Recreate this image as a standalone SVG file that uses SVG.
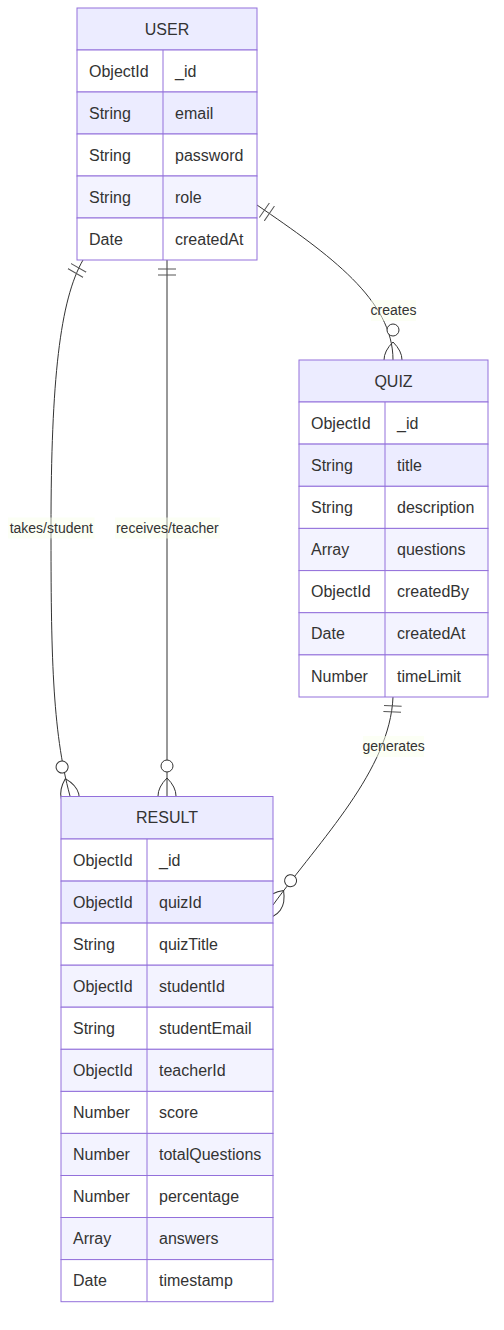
<svg xmlns="http://www.w3.org/2000/svg" width="504" height="1330" viewBox="0 0 504 1330">
<style>
.hdr{fill:#ECECFF;stroke:#9370DB;stroke-width:1}
.odd{fill:#FFFFFF;stroke:#9370DB;stroke-width:1}
.ev1{fill:#ECECFF;stroke:#9370DB;stroke-width:1}
.ev{fill:#F3F3FF;stroke:#9370DB;stroke-width:1}
.div{stroke:#9370DB;stroke-width:1}
.t{font-family:"Liberation Sans",Arial,sans-serif;font-size:16px;fill:#333333}
.c{text-anchor:middle}
.edge{fill:none;stroke:#333333;stroke-width:1}
.lbg{fill:#F9FFEC;opacity:0.5}
.lt{font-family:"Liberation Sans",Arial,sans-serif;font-size:14px;fill:#333333;text-anchor:middle}
.mk{fill:none;stroke:#555555;stroke-width:1}
.mkc{fill:#FFFFFF;stroke:#333333;stroke-width:1}
</style>
<defs>
<marker id="oneStart" markerUnits="userSpaceOnUse" markerWidth="18" markerHeight="18" refX="0" refY="9" orient="auto">
<path class="mk" d="M9,0 L9,18 M15,0 L15,18"/>
</marker>
<marker id="manyEnd" markerUnits="userSpaceOnUse" markerWidth="57" markerHeight="36" refX="39" refY="18" orient="auto">
<circle class="mkc" cx="9" cy="18" r="6"/>
<path class="edge" d="M21,18 Q39,0 57,18 Q39,36 21,18"/>
</marker>
</defs>
<rect width="504" height="1330" fill="#FFFFFF"/>
<g id="connectors">
<path class="edge" d="M257,205 C330,255 393,300 393,360" marker-start="url(#oneStart)" marker-end="url(#manyEnd)"/>
<path class="edge" d="M83,260 C60,300 51,380 51,528 C51,650 52,730 70,796" marker-start="url(#oneStart)" marker-end="url(#manyEnd)"/>
<path class="edge" d="M167,260 L167,796" marker-start="url(#oneStart)" marker-end="url(#manyEnd)"/>
<path class="edge" d="M393,697 C390,770 320,840 273,905" marker-start="url(#oneStart)" marker-end="url(#manyEnd)"/>
<rect class="lbg" x="371" y="300" width="45" height="21"/>
<text class="lt" x="393.5" y="315">creates</text>
<rect class="lbg" x="8" y="517.5" width="86.5" height="21"/>
<text class="lt" x="51.3" y="533">takes/student</text>
<rect class="lbg" x="115" y="517.5" width="105" height="21"/>
<text class="lt" x="167.3" y="533">receives/teacher</text>
<rect class="lbg" x="363" y="736" width="61" height="21"/>
<text class="lt" x="393.7" y="751">generates</text>
</g>
<g id="entity-USER">
<rect class="hdr" x="77" y="8" width="180" height="42"/>
<text class="t c" x="167" y="34.5">USER</text>
<rect class="odd" x="77" y="50" width="180" height="42"/>
<rect class="ev1" x="77" y="92" width="180" height="42"/>
<rect class="odd" x="77" y="134" width="180" height="42"/>
<rect class="ev" x="77" y="176" width="180" height="42"/>
<rect class="odd" x="77" y="218" width="180" height="42"/>
<line class="div" x1="163" y1="50" x2="163" y2="260"/>
<text class="t" x="89" y="76.5">ObjectId</text><text class="t" x="175" y="76.5">_id</text>
<text class="t" x="89" y="118.5">String</text><text class="t" x="175" y="118.5">email</text>
<text class="t" x="89" y="160.5">String</text><text class="t" x="175" y="160.5">password</text>
<text class="t" x="89" y="202.5">String</text><text class="t" x="175" y="202.5">role</text>
<text class="t" x="89" y="244.5">Date</text><text class="t" x="175" y="244.5">createdAt</text>
</g>
<g id="entity-QUIZ">
<rect class="hdr" x="299" y="360" width="189" height="42"/>
<text class="t c" x="393.5" y="386.5">QUIZ</text>
<rect class="odd" x="299" y="402" width="189" height="42.1"/>
<rect class="ev1" x="299" y="444.1" width="189" height="42.2"/>
<rect class="odd" x="299" y="486.3" width="189" height="42.1"/>
<rect class="ev" x="299" y="528.4" width="189" height="42.2"/>
<rect class="odd" x="299" y="570.6" width="189" height="42.1"/>
<rect class="ev" x="299" y="612.7" width="189" height="42.2"/>
<rect class="odd" x="299" y="654.9" width="189" height="42.1"/>
<line class="div" x1="385" y1="402" x2="385" y2="697"/>
<text class="t" x="311" y="428.6">ObjectId</text><text class="t" x="397" y="428.6">_id</text>
<text class="t" x="311" y="470.7">String</text><text class="t" x="397" y="470.7">title</text>
<text class="t" x="311" y="512.9">String</text><text class="t" x="397" y="512.9">description</text>
<text class="t" x="311" y="555">Array</text><text class="t" x="397" y="555">questions</text>
<text class="t" x="311" y="597.2">ObjectId</text><text class="t" x="397" y="597.2">createdBy</text>
<text class="t" x="311" y="639.3">Date</text><text class="t" x="397" y="639.3">createdAt</text>
<text class="t" x="311" y="681.5">Number</text><text class="t" x="397" y="681.5">timeLimit</text>
</g>
<g id="entity-RESULT">
<rect class="hdr" x="61" y="796.5" width="212" height="42.5"/>
<text class="t c" x="167" y="823">RESULT</text>
<rect class="odd" x="61" y="839" width="212" height="42.1"/>
<rect class="ev1" x="61" y="881.1" width="212" height="42"/>
<rect class="odd" x="61" y="923.1" width="212" height="42.1"/>
<rect class="ev" x="61" y="965.2" width="212" height="42"/>
<rect class="odd" x="61" y="1007.2" width="212" height="42.1"/>
<rect class="ev" x="61" y="1049.3" width="212" height="42.1"/>
<rect class="odd" x="61" y="1091.4" width="212" height="42"/>
<rect class="ev" x="61" y="1133.4" width="212" height="42.1"/>
<rect class="odd" x="61" y="1175.5" width="212" height="42"/>
<rect class="ev" x="61" y="1217.5" width="212" height="42.1"/>
<rect class="odd" x="61" y="1259.6" width="212" height="42.1"/>
<line class="div" x1="147" y1="839" x2="147" y2="1301.7"/>
<text class="t" x="73" y="865.5">ObjectId</text><text class="t" x="159" y="865.5">_id</text>
<text class="t" x="73" y="907.6">ObjectId</text><text class="t" x="159" y="907.6">quizId</text>
<text class="t" x="73" y="949.6">String</text><text class="t" x="159" y="949.6">quizTitle</text>
<text class="t" x="73" y="991.7">ObjectId</text><text class="t" x="159" y="991.7">studentId</text>
<text class="t" x="73" y="1033.7">String</text><text class="t" x="159" y="1033.7">studentEmail</text>
<text class="t" x="73" y="1075.8">ObjectId</text><text class="t" x="159" y="1075.8">teacherId</text>
<text class="t" x="73" y="1117.9">Number</text><text class="t" x="159" y="1117.9">score</text>
<text class="t" x="73" y="1159.9">Number</text><text class="t" x="159" y="1159.9">totalQuestions</text>
<text class="t" x="73" y="1202">Number</text><text class="t" x="159" y="1202">percentage</text>
<text class="t" x="73" y="1244">Array</text><text class="t" x="159" y="1244">answers</text>
<text class="t" x="73" y="1286.1">Date</text><text class="t" x="159" y="1286.1">timestamp</text>
</g>
</svg>
